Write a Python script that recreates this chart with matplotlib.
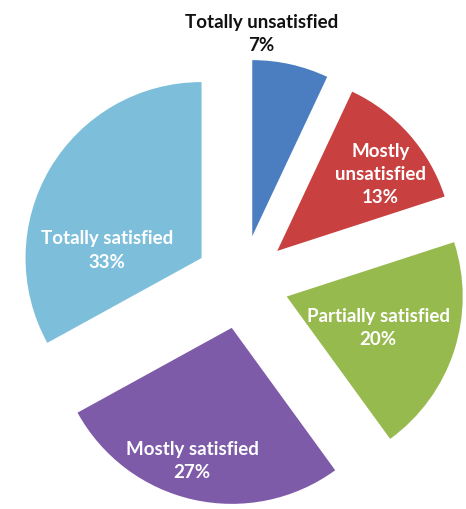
import matplotlib.pyplot as plt
import numpy as np

categories = [
    "Totally unsatisfied",
    "Mostly unsatisfied",
    "Partially satisfied",
    "Mostly satisfied",
    "Totally satisfied",
]
shares = [7, 13, 20, 27, 33]

COLORS = ["#4A7EC0", "#C8403F", "#97BA4F", "#7E5BA8", "#7DBFDB"]
TEXT_COLORS = ["#111111", "white", "white", "white", "white"]
LABEL_TEXT = [
    "Totally unsatisfied",
    "Mostly\nunsatisfied",
    "Partially satisfied",
    "Mostly satisfied",
    "Totally satisfied",
]
# (radial fraction, angle shift in degrees) for each label
LABEL_PLACE = [(1.15, 10), (0.73, -5), (0.55, -1), (0.79, -4), (0.54, 26)]

W, H = 466, 509
RADIUS = 176
CENTER = (242, H - 282)
EXPLODE = 47  # pixels, matplotlib uses absolute data units

fig = plt.figure(figsize=(W / 100, H / 100), dpi=100)
ax = fig.add_axes([0, 0, 1, 1])

wedges, _ = ax.pie(
    shares,
    colors=COLORS,
    startangle=90,
    counterclock=False,
    explode=[EXPLODE] * len(shares),
    radius=RADIUS,
    center=CENTER,
    frame=True,
    wedgeprops=dict(linewidth=0),
)
ax.set_xlim(0, W)
ax.set_ylim(0, H)
ax.set_aspect("equal")
ax.axis("off")

for w, label, share, tc, (frac, shift) in zip(
    wedges, LABEL_TEXT, shares, TEXT_COLORS, LABEL_PLACE
):
    mid = np.deg2rad((w.theta1 + w.theta2) / 2 + shift)
    cx, cy = w.center
    x = cx + frac * w.r * np.cos(mid)
    y = cy + frac * w.r * np.sin(mid)
    ax.text(
        x, y, f"{label}\n{share}%",
        ha="center", va="center", color=tc,
        fontsize=13.5, fontweight="bold", family="Lato",
        linespacing=1.45,
    )

fig.savefig("out.png", dpi=100)
